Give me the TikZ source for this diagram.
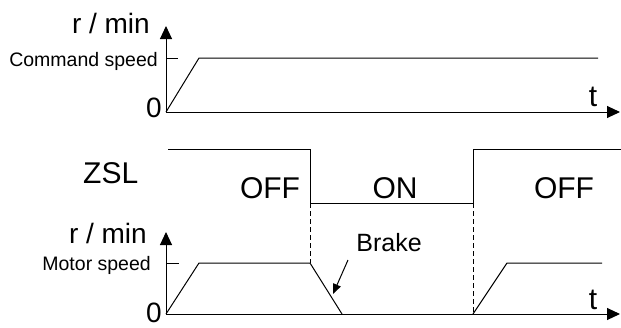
\documentclass[tikz,border=0pt]{standalone}
\usepackage{fontspec}
\setmainfont{Liberation Sans}
\usetikzlibrary{arrows.meta, positioning}

\tikzset{
    axis/.style={line width=1pt, -{Triangle[length=13pt,width=12pt]}},
    wave/.style={line width=1pt},
    guide/.style={line width=0.8pt, dashed, dash pattern=on 5pt off 3pt},
    huge label/.style={font=\fontsize{30}{30}\selectfont, inner sep=0pt},
    unit label/.style={font=\fontsize{28}{28}\selectfont, inner sep=0pt},
    small label/.style={font=\fontsize{19.5}{19.5}\selectfont, inner sep=0pt},
}

\begin{document}
\begin{tikzpicture}[x=1pt, y=-1pt]
    \useasboundingbox (0,0) rectangle (621,327);

    % command speed
    \coordinate (origin1) at (166,112);
    \coordinate (yend1) at (166,26);
    \coordinate (xend1) at (620,112);
    \coordinate (tick1) at (178,58);
    \coordinate (top1) at (199,58);
    \coordinate (stop1) at (598,58);
    \draw[axis] (origin1) -- (yend1);
    \draw[axis] (origin1) -- (xend1);
    \draw[wave] (origin1 |- tick1) -- (tick1);
    \draw[wave] (origin1) -- (top1) -- (stop1);

    \node[unit label, anchor=base east] (unit1) at (150,33) {r / min};
    \node[small label, anchor=base east] (cmd) at (158,66) {Command speed};
    \node[unit label, anchor=base east] (zero1) at (162,117) {0};
    \node[huge label, anchor=base] (t1) at (593,106) {t};

    % ZSL signal
    \coordinate (zs) at (168,149);
    \coordinate (zhi1) at (310,149);
    \coordinate (zlo1) at (310,203);
    \coordinate (zlo2) at (473,203);
    \coordinate (zhi2) at (473,149);
    \coordinate (ze) at (621,149);
    \draw[wave] (zs) -- (zhi1) -- (zlo1) -- (zlo2) -- (zhi2) -- (ze);

    \node[huge label, anchor=base west] (zsl) at (83,183) {ZSL};
    \node[huge label, anchor=base] (off1) at (270,198) {OFF};
    \node[huge label, anchor=base] (on) at (395,198) {ON};
    \node[huge label, anchor=base] (off2) at (564,198) {OFF};

    % motor speed
    \coordinate (origin2) at (166,314);
    \coordinate (yend2) at (166,232);
    \coordinate (xend2) at (620,314);
    \coordinate (tick2) at (179,263);
    \coordinate (top2) at (199,263);
    \coordinate (brk) at (310,263);
    \coordinate (rest) at (342,314);
    \coordinate (rise) at (473,314);
    \coordinate (top3) at (507,263);
    \coordinate (stop2) at (602,263);
    \draw[axis] (origin2) -- (yend2);
    \draw[axis] (origin2) -- (xend2);
    \draw[wave] (origin2 |- tick2) -- (tick2);
    \draw[wave] (origin2) -- (top2) -- (brk) -- (rest);
    \draw[wave] (rise) -- (top3) -- (stop2);
    \draw[guide] (zlo1) -- (brk);
    \draw[guide] (zlo2) -- (rise);

    \node[unit label, anchor=base east] (unit2) at (147,243) {r / min};
    \node[small label, anchor=base east] (motor) at (151,270) {Motor speed};
    \node[unit label, anchor=base east] (zero2) at (162,322) {0};
    \node[huge label, anchor=base] (t2) at (593,309) {t};

    \node[font=\fontsize{25}{25}\selectfont, inner sep=0pt, anchor=base] (brake) at (389,251) {Brake};
    \coordinate (ptr) at (348,260);
    \draw[line width=1pt, -{Triangle[length=10pt,width=8pt]}] (ptr) -- (333,294);
\end{tikzpicture}
\end{document}
